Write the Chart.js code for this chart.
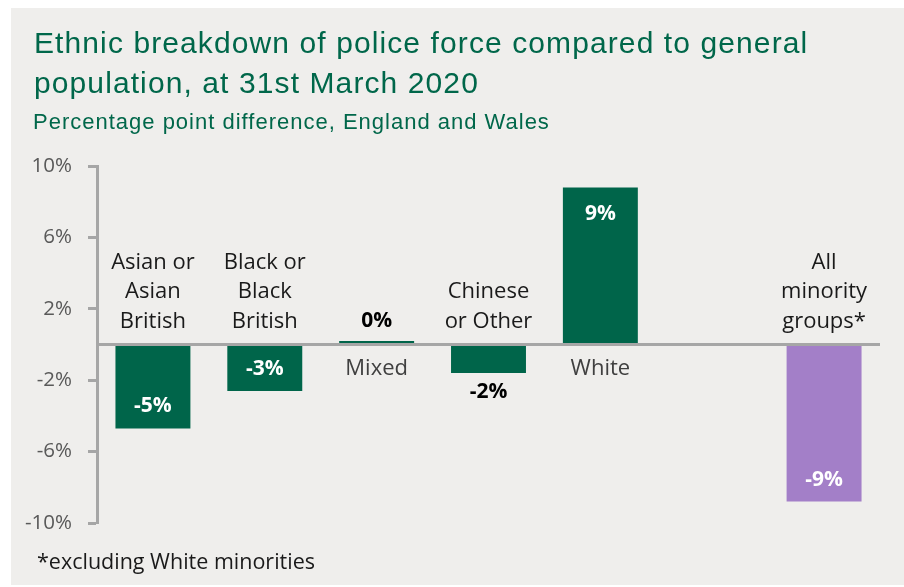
<!DOCTYPE html>
<html lang="en">
<head>
    <meta charset="UTF-8">
    <title>Police force ethnicity</title>
    <script src="https://cdn.jsdelivr.net/npm/chart.js"></script>
    <style>
        body{
            margin: 0;
            background: #ffffff;
        }
        .panel{
            position: absolute;
            left: 11px;
            top: 8px;
            width: 893px;
            height: 577px;
            background: #efeeec;
        }
        .panel canvas{
            position: absolute;
            left: 0;
            top: 0;
        }
        .title{
            position: absolute;
            left: 23px;
            top: 15px;
            font-family: "Liberation Sans", Arial, sans-serif;
            font-size: 30px;
            line-height: 40px;
            letter-spacing: 1.1px;
            color: #00674a;
            white-space: nowrap;
        }
        .subtitle{
            position: absolute;
            left: 22px;
            top: 101px;
            font-family: "Liberation Sans", Arial, sans-serif;
            font-size: 22px;
            line-height: 26px;
            letter-spacing: 1px;
            color: #00674a;
        }
        .note{
            position: absolute;
            left: 26px;
            top: 539px;
            font-family: "Open Sans", sans-serif;
            font-size: 21.5px;
            line-height: 27px;
            color: #1a1a1a;
        }
    </style>
</head>
<body>
    <div class="panel">
        <canvas id="chart" width="893" height="577"></canvas>
        <div class="title">Ethnic breakdown of police force compared to general<br>population, at 31st March 2020</div>
        <div class="subtitle">Percentage point difference, England and Wales</div>
        <div class="note">*excluding White minorities</div>
    </div>

    <script>
        // categories (line breaks as in the original), the empty one is a spacer
        const categories = [
            ['Asian or', 'Asian', 'British'],
            ['Black or', 'Black', 'British'],
            ['Mixed'],
            ['Chinese', 'or Other'],
            ['White'],
            [''],
            ['All', 'minority', 'groups*']
        ];
        // percentage point difference, police force minus population
        const values = [-4.7, -2.6, 0.2, -1.6, 8.8, null, -8.8];
        const yTicks = [-10, -6, -2, 2, 6, 10];

        const green = '#00654a';
        const purple = '#a37fc8';
        const axisGray = '#a6a6a6';

        // zero line plus the category and value labels
        const labelPlugin = {
            id: 'labels',
            afterDatasetsDraw(chart) {
                const ctx = chart.ctx;
                const area = chart.chartArea;
                const y = chart.scales.y;
                const zeroY = y.getPixelForValue(0);

                ctx.save();
                ctx.strokeStyle = axisGray;
                ctx.lineWidth = 3;
                ctx.beginPath();
                ctx.moveTo(area.left, zeroY);
                ctx.lineTo(area.right, zeroY);
                ctx.stroke();

                ctx.textAlign = 'center';
                ctx.textBaseline = 'middle';
                const bars = chart.getDatasetMeta(0).data;
                bars.forEach((bar, i) => {
                    const v = values[i];
                    if (v === null) return;
                    const lines = categories[i];
                    const x = bar.x;

                    // category name on the other side of zero
                    ctx.font = "22px 'Open Sans'";
                    if (v < 0) {
                        ctx.fillStyle = '#1a1a1a';
                        lines.forEach((t, k) => {
                            ctx.fillText(t, x, zeroY - 23 - (lines.length - 1 - k) * 29.5);
                        });
                    } else {
                        ctx.fillStyle = '#404040';
                        lines.forEach((t, k) => {
                            ctx.fillText(t, x, zeroY + 24 + k * 29.5);
                        });
                    }

                    // value
                    ctx.font = "bold 21px 'Open Sans'";
                    const txt = Math.round(v) + '%';
                    const end = bar.y;
                    if (Math.abs(v) >= 2) {
                        ctx.fillStyle = '#ffffff';
                        ctx.fillText(txt, x, v < 0 ? end - 22 : end + 27);
                    } else {
                        ctx.fillStyle = '#000000';
                        ctx.fillText(txt, x, v < 0 ? end + 19 : end - 20);
                    }
                });
                ctx.restore();
            }
        };

        new Chart(document.getElementById('chart'), {
            type: 'bar',
            data: {
                labels: categories,
                datasets: [{
                    data: values,
                    backgroundColor: c => c.index === categories.length - 1 ? purple : green,
                    barPercentage: 0.67,
                    categoryPercentage: 1
                }]
            },
            options: {
                responsive: false,
                animation: false,
                layout: {
                    padding: { top: 158, right: 24, bottom: 62, left: 0 }
                },
                plugins: {
                    legend: { display: false },
                    tooltip: { enabled: false }
                },
                scales: {
                    x: {
                        display: false
                    },
                    y: {
                        min: -10,
                        max: 10,
                        afterBuildTicks: s => { s.ticks = yTicks.map(v => ({ value: v })); },
                        afterFit: s => { s.width = 86; },
                        ticks: {
                            callback: v => v + '%',
                            color: '#595959',
                            font: { family: 'Open Sans', size: 20.5 },
                            padding: 16
                        },
                        grid: {
                            drawOnChartArea: false,
                            drawTicks: true,
                            tickLength: 9,
                            tickWidth: 3,
                            color: axisGray
                        },
                        border: {
                            color: axisGray,
                            width: 3
                        }
                    }
                }
            },
            plugins: [labelPlugin]
        });
    </script>
</body>
</html>
